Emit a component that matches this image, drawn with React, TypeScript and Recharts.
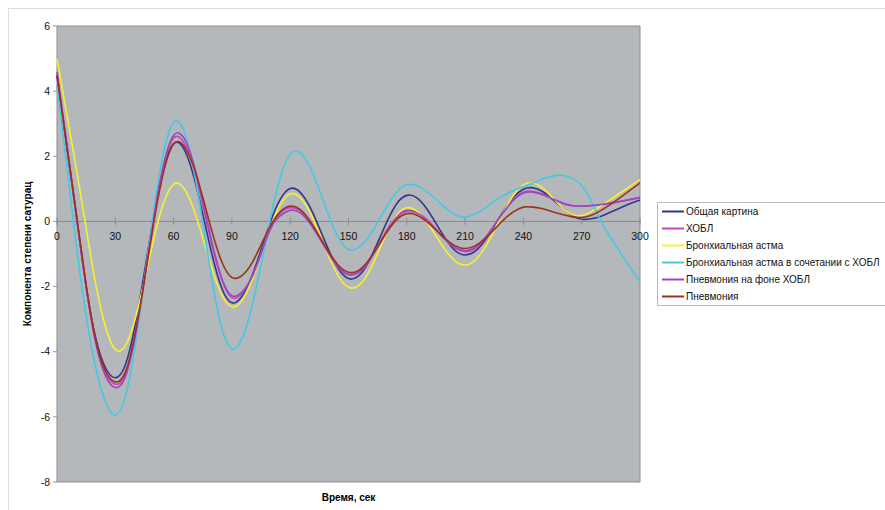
import React from 'react';
import {
  LineChart,
  Line,
  XAxis,
  YAxis,
  CartesianGrid,
  ReferenceLine,
  ReferenceArea,
  Legend,
} from 'recharts';

// ---------- data ----------
const TIME = [
  0, 5, 10, 15, 20, 25, 30, 35, 40, 45, 50, 55, 60, 65, 70, 75, 80, 85, 90, 95,
  100, 105, 110, 115, 120, 125, 130, 135, 140, 145, 150, 155, 160, 165, 170, 175,
  180, 185, 190, 195, 200, 205, 210, 215, 220, 225, 230, 235, 240, 245, 250, 255,
  260, 265, 270, 275, 280, 285, 290, 295, 300,
];

const X_TICKS = [0, 30, 60, 90, 120, 150, 180, 210, 240, 270, 300];
const Y_TICKS = [-8, -6, -4, -2, 0, 2, 4, 6];

const SERIES_NAMES = [
  'Общая картина',
  'ХОБЛ',
  'Бронхиальная астма',
  'Бронхиальная астма в сочетании с ХОБЛ',
  'Пневмония на фоне ХОБЛ',
  'Пневмония',
];

const SERIES_COLORS = ['#34348e', '#d040c0', '#f7f030', '#44c8e6', '#9848c0', '#a0301c'];

const OBSHCHAYA = [
  4.45, 2.3, 0.15, -2.0, -3.6, -4.5, -4.8, -4.43, -3.25, -1.55, 0.24, 1.67, 2.39, 2.26, 1.46, 0.23,
  -1.07, -2.08, -2.5, -2.31, -1.72, -0.88, 0.01, 0.69, 1.01, 0.9, 0.46, -0.2, -0.9, -1.47, -1.75,
  -1.68, -1.28, -0.65, 0.02, 0.56, 0.8, 0.73, 0.41, -0.06, -0.54, -0.9, -1.03, -0.92, -0.6, -0.14,
  0.34, 0.75, 0.99, 1.03, 0.91, 0.68, 0.42, 0.19, 0.07, 0.08, 0.16, 0.29, 0.42, 0.55, 0.66,
];

const HOBL = [
  4.5, 2.35, 0.15, -2.0, -3.7, -4.65, -5.0, -4.72, -3.5, -1.72, 0.18, 1.74, 2.56, 2.45, 1.72, 0.52,
  -0.78, -1.82, -2.34, -2.22, -1.74, -1.0, -0.22, 0.26, 0.42, 0.34, 0.0, -0.46, -0.98, -1.42, -1.64,
  -1.58, -1.27, -0.76, -0.24, 0.18, 0.34, 0.29, 0.08, -0.24, -0.56, -0.82, -0.93, -0.84, -0.55, -0.13,
  0.3, 0.68, 0.9, 0.92, 0.84, 0.7, 0.57, 0.49, 0.47, 0.48, 0.51, 0.56, 0.61, 0.67, 0.72,
];

const ASTMA = [
  5.0, 3.3, 1.6, -0.2, -1.95, -3.25, -3.93, -3.83, -3.04, -1.82, -0.49, 0.59, 1.14, 1.04, 0.43, -0.5,
  -1.5, -2.28, -2.62, -2.44, -1.86, -1.02, -0.15, 0.53, 0.85, 0.74, 0.3, -0.38, -1.1, -1.7, -2.02,
  -1.98, -1.6, -0.98, -0.32, 0.2, 0.42, 0.32, 0.01, -0.44, -0.89, -1.22, -1.34, -1.2, -0.82, -0.28,
  0.31, 0.81, 1.12, 1.18, 1.02, 0.73, 0.42, 0.21, 0.18, 0.3, 0.48, 0.68, 0.88, 1.08, 1.29,
];

const ASTMA_HOBL = [
  4.15, 1.75, -0.75, -2.9, -4.5, -5.55, -5.95, -5.41, -3.89, -1.78, 0.42, 2.16, 3.03, 2.83, 1.7, -0.04,
  -1.89, -3.32, -3.91, -3.63, -2.69, -1.32, 0.14, 1.37, 2.07, 2.11, 1.69, 0.97, 0.15, -0.52, -0.86,
  -0.81, -0.51, -0.03, 0.49, 0.91, 1.13, 1.1, 0.93, 0.68, 0.41, 0.2, 0.13, 0.22, 0.4, 0.62,
  0.8, 0.95, 1.07, 1.18, 1.3, 1.39, 1.42, 1.33, 1.1, 0.62, 0.0, -0.5, -0.97, -1.42, -1.85,
];

const PNEV_HOBL = [
  4.6, 2.4, 0.2, -2.0, -3.75, -4.75, -5.1, -4.8, -3.6, -1.79, 0.16, 1.78, 2.64, 2.59, 1.84, 0.62,
  -0.71, -1.78, -2.28, -2.18, -1.75, -1.0, -0.2, 0.18, 0.34, 0.27, -0.05, -0.51, -1.01, -1.42, -1.62,
  -1.56, -1.26, -0.78, -0.27, 0.14, 0.32, 0.27, 0.06, -0.25, -0.57, -0.81, -0.9, -0.8, -0.52, -0.12,
  0.3, 0.66, 0.87, 0.9, 0.82, 0.69, 0.56, 0.48, 0.47, 0.49, 0.52, 0.57, 0.62, 0.68, 0.74,
];

const PNEV = [
  4.5, 2.35, 0.2, -1.95, -3.65, -4.6, -4.93, -4.65, -3.52, -1.81, 0.04, 1.56, 2.38, 2.34, 1.73, 0.74,
  -0.36, -1.27, -1.72, -1.67, -1.31, -0.72, -0.12, 0.3, 0.47, 0.37, 0.03, -0.45, -0.95, -1.36, -1.56,
  -1.51, -1.22, -0.78, -0.31, 0.07, 0.24, 0.2, 0.01, -0.26, -0.54, -0.75, -0.83, -0.75, -0.55, -0.25,
  0.06, 0.3, 0.44, 0.44, 0.39, 0.3, 0.21, 0.14, 0.12, 0.19, 0.34, 0.53, 0.74, 0.96, 1.18,
];

const SERIES_VALUES = [OBSHCHAYA, HOBL, ASTMA, ASTMA_HOBL, PNEV_HOBL, PNEV];

const X_TITLE = 'Время, сек';
const Y_TITLE = 'Компонента степени сатурац';

const Y_MIN = -8;
const Y_MAX = 6;

// ---------- layout ----------
const FONT = '"Liberation Sans", Arial, sans-serif';
const CHART_W = 876;
const CHART_H = 501;
const MARGIN = { top: 17, right: 245, bottom: 8, left: 8 };
const XAXIS_H = 20;
const PLOT_H = CHART_H - MARGIN.top - MARGIN.bottom - XAXIS_H;
const ZERO_Y = MARGIN.top + (PLOT_H * (Y_MAX - 0)) / (Y_MAX - Y_MIN);

const data = TIME.map((t, i) => {
  const row: Record<string, number> = { t };
  SERIES_VALUES.forEach((arr, k) => {
    row['s' + k] = arr[i];
  });
  return row;
});

// X ticks drawn on the zero line (Excel-style axis crossing at 0)
const XTick = (props: any) => {
  const { x, payload } = props;
  return (
    <g>
      <line x1={x} x2={x} y1={ZERO_Y - 3.5} y2={ZERO_Y + 3.5} stroke="#8a8a8a" strokeWidth={1} />
      <text
        x={x}
        y={ZERO_Y + 18.5}
        textAnchor="middle"
        fontSize={10.5}
        fontFamily={FONT}
        fill="#111"
      >
        {payload.value}
      </text>
    </g>
  );
};

const LegendBox = (props: any) => {
  const { payload = [] } = props;
  const ordered = SERIES_NAMES.map((n) => payload.find((p: any) => p.value === n)).filter(Boolean);
  return (
    <div
      style={{
        border: '1px solid #bcbcbc',
        background: '#fff',
        width: 236,
        fontFamily: FONT,
        fontSize: 10,
        color: '#111',
        boxSizing: 'border-box',
      }}
    >
      {ordered.map((p: any) => (
        <div key={p.value} style={{ height: 17, display: 'flex', alignItems: 'center' }}>
          <svg width={28} height={17} style={{ flex: 'none' }}>
            <line x1={4} x2={26} y1={8.5} y2={8.5} stroke={p.color} strokeWidth={2} />
          </svg>
          <span style={{ whiteSpace: 'nowrap' }}>{p.value}</span>
        </div>
      ))}
    </div>
  );
};

export default function App() {
  return (
    <div
      style={{
        position: 'absolute',
        left: 8,
        top: 8,
        width: CHART_W + 1,
        height: CHART_H + 1,
        borderTop: '1px solid #dedede',
        borderLeft: '1px solid #dedede',
        boxSizing: 'border-box',
        overflow: 'hidden',
        background: '#fff',
      }}
    >
      <LineChart width={CHART_W} height={CHART_H} data={data} margin={MARGIN}>
        <CartesianGrid horizontal={false} vertical={false} fill="#b4b8ba" fillOpacity={1} />
        <ReferenceArea
          x1={0}
          x2={300}
          y1={Y_MIN}
          y2={Y_MAX}
          fill="none"
          fillOpacity={0}
          stroke="#8c8c8c"
          strokeWidth={1}
        />
        <ReferenceLine y={0} stroke="#8a8a8a" strokeWidth={1} />
        <XAxis
          dataKey="t"
          type="number"
          domain={[0, 300]}
          ticks={X_TICKS}
          interval={0}
          height={XAXIS_H}
          axisLine={false}
          tickLine={false}
          tick={<XTick />}
          label={{
            value: X_TITLE,
            position: 'insideBottom',
            offset: 1,
            style: { fontWeight: 'bold', fontSize: 10, fontFamily: FONT, fill: '#000' },
          }}
        />
        <YAxis
          type="number"
          domain={[Y_MIN, Y_MAX]}
          ticks={Y_TICKS}
          interval={0}
          width={40}
          axisLine={false}
          tickLine={{ stroke: '#9a9a9a' }}
          tickSize={4}
          tickMargin={3}
          tick={{ fontSize: 10.5, fill: '#111', fontFamily: FONT }}
          label={{
            value: Y_TITLE,
            angle: -90,
            position: 'insideLeft',
            offset: 10,
            style: {
              textAnchor: 'middle',
              fontWeight: 'bold',
              fontSize: 10,
              fontFamily: FONT,
              fill: '#000',
            },
          }}
        />
        {SERIES_NAMES.map((name, k) => (
          <Line
            key={name}
            type="natural"
            dataKey={'s' + k}
            name={name}
            stroke={SERIES_COLORS[k]}
            strokeWidth={1.6}
            dot={false}
            activeDot={false}
            isAnimationActive={false}
          />
        ))}
        <Legend
          layout="vertical"
          align="center"
          verticalAlign="middle"
          content={<LegendBox />}
          wrapperStyle={{ left: 648, top: 193, width: 236, height: 'auto' }}
        />
      </LineChart>
    </div>
  );
}
